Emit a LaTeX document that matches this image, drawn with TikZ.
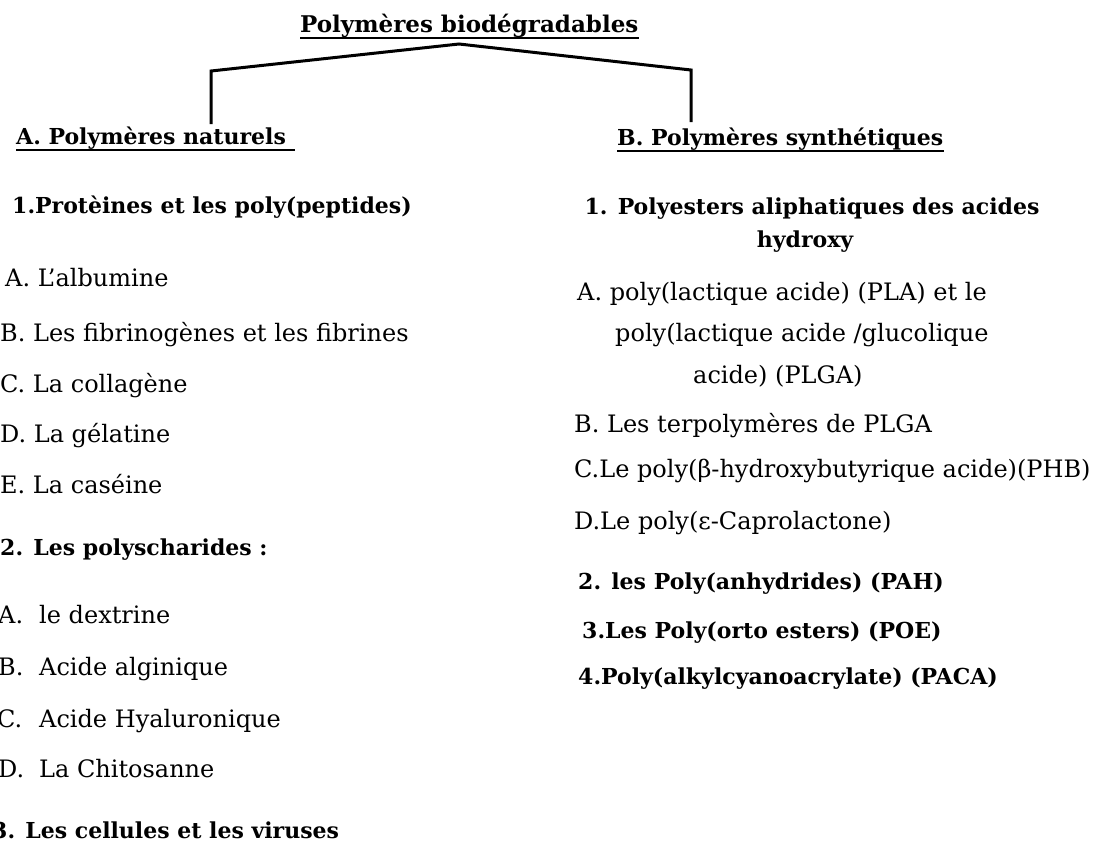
\documentclass[tikz,border=0pt]{standalone}
\usepackage{fontspec}
\setmainfont{DejaVu Serif}
\usetikzlibrary{calc}
\tikzset{
  item/.style={anchor=base west, inner sep=0pt, font=\fontsize{24}{28}\selectfont},
  head/.style={anchor=base west, inner sep=0pt, font=\fontsize{22}{26}\bfseries\selectfont},
  uline/.style={line width=1.6pt},
  bracket/.style={line width=3pt, line join=miter}
}
\begin{document}
\begin{tikzpicture}[x=1pt,y=-1pt]
\useasboundingbox (0,0) rectangle (1097,844);
\clip (0,0) rectangle (1097,844);
% title
\node[head, font=\fontsize{23}{27}\bfseries\selectfont] (title) at (300,32) {Polymères biodégradables};
\draw[uline] ($(title.base west)+(0,6)$) -- ($(title.base east)+(0,6)$);
% bracket
\coordinate (apex) at (459,44);
\coordinate (lt) at (211,71);
\coordinate (rt) at (691,70);
\coordinate (lb) at (211,124);
\coordinate (rb) at (691,122);
\draw[bracket] (lb) -- (lt) -- (apex) -- (rt) -- (rb);
% headings
\node[head] (nat) at (16,144) {A. Polymères naturels};
\draw[uline] ($(nat.base west)+(0,6)$) -- ($(nat.base east)+(9,6)$);
\node[head] (syn) at (617,145) {B. Polymères synthétiques};
\draw[uline] ($(syn.base west)+(0,6)$) -- ($(syn.base east)+(0,6)$);
% left column
\node[head] (p1) at (12,213) {1.Protèines et les poly(peptides)};
\node[item] (pa) at (5,286) {A. L’albumine};
\node[item] (pb) at (0,341) {B. Les fibrinogènes et les fibrines};
\node[item] (pc) at (0,392) {C. La collagène};
\node[item] (pd) at (0,442) {D. La gélatine};
\node[item] (pe) at (0,493) {E. La caséine};
\node[head] (p2) at (0,555) {2. Les polyscharides :};
\node[item] (sa) at (-2,623) {\makebox[41pt][l]{A.}le dextrine};
\node[item] (sb) at (-2,675) {\makebox[41pt][l]{B.}Acide alginique};
\node[item] (sc) at (-3,727) {\makebox[42pt][l]{C.}Acide Hyaluronique};
\node[item] (sd) at (-2,777) {\makebox[41pt][l]{D.}La Chitosanne};
\node[head] (p3) at (-8,838) {3. Les cellules et les viruses};
% right column
\node[head, anchor=base] (q1) at (812,214) {1. Polyesters aliphatiques des acides};
\node[head, anchor=base] (q1b) at (805,247) {hydroxy};
\node[item] (qa) at (577,300) {A. poly(lactique acide) (PLA) et le};
\node[item] (qa2) at (615,341) {poly(lactique acide /glucolique};
\node[item] (qa3) at (693,383) {acide) (PLGA)};
\node[item] (qb) at (574,432) {B. Les terpolymères de PLGA};
\node[item] (qc) at (574,477) {C.Le poly(β-hydroxybutyrique acide)(PHB)};
\node[item] (qd) at (574,529) {D.Le poly(ε-Caprolactone)};
\node[head] (q2) at (578,589) {2. les Poly(anhydrides) (PAH)};
\node[head] (q3) at (582,638) {3.Les Poly(orto esters) (POE)};
\node[head] (q4) at (578,684) {4.Poly(alkylcyanoacrylate) (PACA)};
\end{tikzpicture}
\end{document}
